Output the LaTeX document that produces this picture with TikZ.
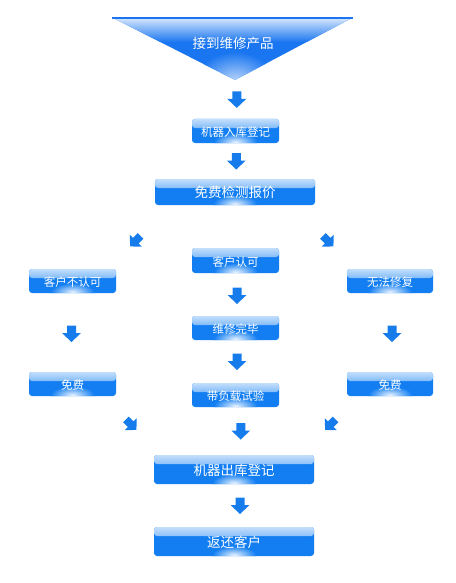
\documentclass[tikz,border=0pt]{standalone}
\usepackage{fontspec}
\setmainfont{Noto Sans CJK SC}
\usetikzlibrary{calc}
\definecolor{boxblue}{RGB}{18,126,242}
\definecolor{arrblue}{RGB}{22,124,236}
\definecolor{triblue}{RGB}{26,118,240}
\tikzset{
  bx/.style={rounded corners=3, fill=boxblue, text=white, inner sep=0pt,
    text height=1.1em, text depth=0pt,
    minimum width=87pt, minimum height=24pt, font=\fontsize{11.5}{12}\selectfont,
    path picture={
      \shade[top color=white!75!boxblue, bottom color=boxblue]
        (path picture bounding box.north west) rectangle ([yshift=-9pt]path picture bounding box.north east);
      \shade[inner color=white!90!boxblue, outer color=boxblue]
        ([yshift=1pt]path picture bounding box.south) ellipse (22 and 9);
    }},
  bigbx/.style={bx, minimum width=160pt, font=\fontsize{13.5}{14}\selectfont},
  barrow/.pic={\fill[arrblue] (-4.5,-8) -- (4.5,-8) -- (4.5,-0.5) -- (9.5,-0.5) -- (0,8.5) -- (-9.5,-0.5) -- (-4.5,-0.5) -- cycle;}
}
\begin{document}
\begin{tikzpicture}[x=1pt,y=-1pt]
\useasboundingbox (0,0) rectangle (455,583);
% top triangle
\coordinate (tl) at (113,18);
\coordinate (tr) at (352,18);
\coordinate (apex) at (235,80);
\begin{scope}
  \clip (tl) -- (tr) -- (apex) -- cycle;
  \fill[triblue] (100,15) rectangle (360,85);
  \shade[top color=white!78!triblue, bottom color=triblue] (100,19) rectangle (360,42);
  \shade[inner color=white!72!triblue, outer color=triblue] (235,82) ellipse (40 and 30);
\end{scope}
\draw[triblue, line width=2.5pt] ([xshift=-1pt]tl) -- ([xshift=1pt]tr);
\node[text=white, font=\fontsize{13.5}{14}\selectfont] (top) at (233,43) {接到维修产品};
% boxes
\node[bx] (b1) at (235.5,131) {机器入库登记};
\node[bigbx, minimum height=26pt] (b2) at (235,192) {免费检测报价};
\node[bx, minimum height=25pt] (b3) at (235.5,260.5) {客户认可};
\node[bx] (b4) at (235.5,328) {维修完毕};
\node[bx] (b5) at (235.5,395) {带负载试验};
\node[bigbx, minimum height=29pt] (b6) at (234,469.5) {机器出库登记};
\node[bigbx, minimum height=29pt] (b7) at (234,541.5) {返还客户};
\node[bx] (l1) at (72.5,281) {客户不认可};
\node[bx] (l2) at (72.5,384) {免费};
\node[bx, minimum width=86pt] (r1) at (390,281) {无法修复};
\node[bx, minimum width=86pt] (r2) at (390,384) {免费};
% arrows
\pic at ($(apex)!0.5!(b1.north)+(1.5,0)$) {barrow};
\pic at ($(b1.south)!0.5!(b2.north)+(1,0)$) {barrow};
\pic at ($(b3.south)!0.5!(b4.north)+(1.5,1)$) {barrow};
\pic at ($(b4.south)!0.5!(b5.north)+(1.5,0)$) {barrow};
\pic at ($(b5.south)!0.5!(b6.north)+(6,0)$) {barrow};
\pic at ($(b6.south)!0.5!(b7.north)+(6,0)$) {barrow};
\pic at ($(l1.south)!0.5!(l2.north)+(-1,1)$) {barrow};
\pic at ($(r1.south)!0.5!(r2.north)+(2,1)$) {barrow};
\pic[rotate=-45, scale=0.9] at ($(b2.south west)!0.5!(l1.north east)+(0,4)$) {barrow};
\pic[rotate=45, scale=0.9] at ($(b2.south east)!0.5!(r1.north west)+(-3,4)$) {barrow};
\pic[rotate=45, scale=0.9] at ($(l2.south east)!0.5!(b6.north west)+(-4,-1)$) {barrow};
\pic[rotate=-45, scale=0.9] at ($(r2.south west)!0.5!(b6.north east)+(0,-1)$) {barrow};
\end{tikzpicture}
\end{document}
